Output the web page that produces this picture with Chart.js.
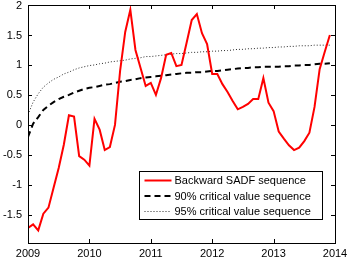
<!DOCTYPE html>
<html>
<head>
<meta charset="utf-8">
<script src="https://cdn.jsdelivr.net/npm/chart.js@4"></script>
<style>
  html, body { margin: 0; padding: 0; background: #fff; }
  #wrap { width: 349px; height: 263px; }
</style>
</head>
<body>
<div id="wrap"><canvas id="chart" width="349" height="263"></canvas></div>
<script>
// monthly observations, Jan 2009 .. Dec 2013
const startYear = 2009;
const sadf = [
  -1.72, -1.66, -1.76, -1.48, -1.38, -1.05, -0.72, -0.33, 0.16, 0.14, -0.52, -0.58,
  -0.68, 0.10, -0.08, -0.42, -0.37, 0.00, 0.90, 1.55, 1.92, 1.25, 0.95, 0.65,
  0.70, 0.50, 0.78, 1.17, 1.20, 0.98, 1.00, 1.37, 1.75, 1.85, 1.53, 1.35,
  0.85, 0.85, 0.68, 0.55, 0.40, 0.26, 0.30, 0.35, 0.43, 0.43, 0.78, 0.37,
  0.23, -0.11, -0.23, -0.34, -0.42, -0.38, -0.27, -0.13, 0.30, 0.93, 1.22, 1.50
];
const cv90 = [
  -0.20, 0.02, 0.13, 0.25, 0.32, 0.38, 0.43, 0.47, 0.50, 0.54, 0.57, 0.60,
  0.62, 0.63, 0.65, 0.67, 0.68, 0.70, 0.72, 0.73, 0.75, 0.76, 0.78, 0.79,
  0.80, 0.81, 0.82, 0.83, 0.84, 0.85, 0.86, 0.87, 0.87, 0.88, 0.88, 0.89,
  0.90, 0.90, 0.91, 0.92, 0.93, 0.94, 0.95, 0.95, 0.96, 0.96, 0.97, 0.97,
  0.97, 0.97, 0.98, 0.98, 0.99, 0.99, 1.00, 1.00, 1.01, 1.02, 1.02, 1.03
];
const cv95 = [
  0.17, 0.38, 0.52, 0.63, 0.70, 0.76, 0.80, 0.85, 0.88, 0.92, 0.95, 0.97,
  0.99, 1.00, 1.02, 1.03, 1.05, 1.06, 1.07, 1.08, 1.10, 1.11, 1.12, 1.14,
  1.14, 1.15, 1.16, 1.17, 1.18, 1.19, 1.19, 1.20, 1.21, 1.21, 1.22, 1.22,
  1.23, 1.23, 1.24, 1.24, 1.25, 1.26, 1.26, 1.27, 1.27, 1.28, 1.28, 1.29,
  1.29, 1.30, 1.30, 1.31, 1.31, 1.32, 1.32, 1.32, 1.33, 1.33, 1.33, 1.33
];
const seriesLabels = [
  "Backward SADF sequence",
  "90% critical value sequence",
  "95% critical value sequence"
];
const xTicks = [2009, 2010, 2011, 2012, 2013, 2014];
const yTicks = [-1.5, -1, -0.5, 0, 0.5, 1, 1.5, 2];

const FONT = "Liberation Sans, Arial, Helvetica, sans-serif";

function toPoints(arr) {
  return arr.map((v, i) => ({ x: startYear + i / 12, y: v }));
}

// --- box, inward ticks and tick labels (matlab look) ---
const framePlugin = {
  id: "frame",
  afterDatasetsDraw(chart) {
    const { ctx, chartArea: a, scales } = chart;
    ctx.save();
    ctx.strokeStyle = "#000";
    ctx.lineWidth = 1;
    ctx.beginPath();
    xTicks.forEach(t => {
      const px = Math.round(scales.x.getPixelForValue(t)) + 0.5;
      ctx.moveTo(px, a.bottom); ctx.lineTo(px, a.bottom - 4);
      ctx.moveTo(px, a.top); ctx.lineTo(px, a.top + 4);
    });
    yTicks.forEach(t => {
      const py = Math.round(scales.y.getPixelForValue(t)) + 0.5;
      ctx.moveTo(a.left, py); ctx.lineTo(a.left + 4, py);
      ctx.moveTo(a.right, py); ctx.lineTo(a.right - 4, py);
    });
    ctx.stroke();
    ctx.strokeRect(Math.round(a.left) + 0.5, Math.round(a.top) + 0.5,
      Math.round(a.right - a.left), Math.round(a.bottom - a.top));

    ctx.fillStyle = "#000";
    ctx.font = "11px " + FONT;
    ctx.textBaseline = "middle";
    ctx.textAlign = "right";
    yTicks.forEach(t => {
      ctx.fillText(String(t), a.left - 6, scales.y.getPixelForValue(t) + 0.5);
    });
    ctx.textAlign = "center";
    xTicks.forEach(t => {
      ctx.fillText(String(t), scales.x.getPixelForValue(t), a.bottom + 11);
    });
    ctx.restore();
  }
};

// --- legend box inside the axes, lower right ---
const legendPlugin = {
  id: "boxLegend",
  afterDraw(chart) {
    const { ctx, chartArea: a } = chart;
    const x0 = Math.round(a.right) - 12.5, y0 = 171.5;
    const w = 183, h = 48;
    ctx.save();
    ctx.fillStyle = "#fff";
    ctx.fillRect(x0 - w, y0, w, h);
    ctx.strokeStyle = "#000";
    ctx.lineWidth = 1;
    ctx.strokeRect(x0 - w, y0, w, h);
    ctx.font = "11px " + FONT;
    ctx.textBaseline = "middle";
    chart.data.datasets.forEach((ds, i) => {
      const cy = y0 + 9 + i * 15.5;
      ctx.beginPath();
      ctx.strokeStyle = ds.borderColor;
      ctx.lineWidth = ds.borderWidth;
      ctx.setLineDash(ds.borderDash || []);
      ctx.moveTo(x0 - w + 5, cy);
      ctx.lineTo(x0 - w + 32, cy);
      ctx.stroke();
      ctx.setLineDash([]);
      ctx.fillStyle = "#000";
      ctx.fillText(ds.label, x0 - w + 35, cy + 0.5);
    });
    ctx.restore();
  }
};

window.addEventListener("DOMContentLoaded", () => {
  const ctx = document.getElementById("chart").getContext("2d");
  new Chart(ctx, {
    type: "line",
    data: {
      datasets: [
        {
          label: seriesLabels[0],
          data: toPoints(sadf),
          borderColor: "#ff0000",
          borderWidth: 2,
          pointRadius: 0,
          tension: 0
        },
        {
          label: seriesLabels[1],
          data: toPoints(cv90),
          borderColor: "#000000",
          borderWidth: 2,
          borderDash: [6, 4],
          pointRadius: 0,
          tension: 0
        },
        {
          label: seriesLabels[2],
          data: toPoints(cv95),
          borderColor: "#2a2a2a",
          borderWidth: 1,
          borderDash: [1, 2],
          pointRadius: 0,
          tension: 0
        }
      ]
    },
    options: {
      responsive: false,
      animation: false,
      events: [],
      layout: { padding: { top: 5, right: 14, left: 0, bottom: 0 } },
      plugins: { legend: { display: false }, tooltip: { enabled: false } },
      scales: {
        x: {
          type: "linear",
          min: xTicks[0],
          max: xTicks[xTicks.length - 1],
          afterBuildTicks: s => { s.ticks = xTicks.map(v => ({ value: v })); },
          afterFit: s => { s.height = 20; },
          grid: { display: false, drawTicks: false },
          border: { display: false },
          ticks: { display: false }
        },
        y: {
          min: -1.97,
          max: 2,
          afterBuildTicks: s => { s.ticks = yTicks.map(v => ({ value: v })); },
          afterFit: s => { s.width = 28; },
          grid: { display: false, drawTicks: false },
          border: { display: false },
          ticks: { display: false }
        }
      }
    },
    plugins: [framePlugin, legendPlugin]
  });
});
</script>
</body>
</html>
